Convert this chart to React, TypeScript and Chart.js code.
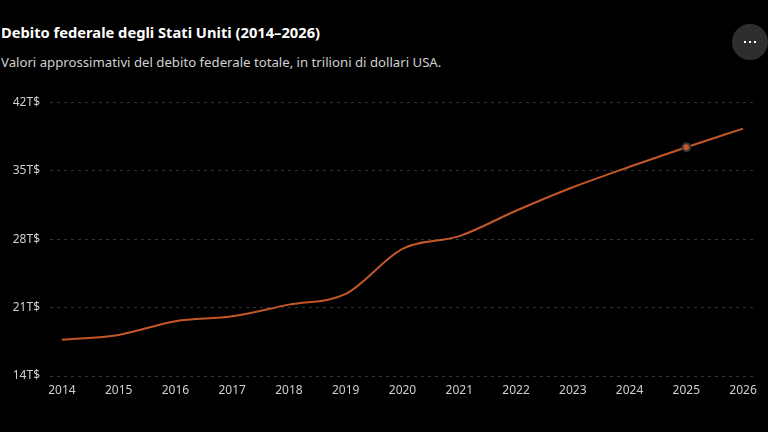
import React, { useEffect, useRef } from "react";
import { Chart, registerables } from "chart.js";

Chart.register(...registerables);

const years = [2014, 2015, 2016, 2017, 2018, 2019, 2020, 2021, 2022, 2023, 2024, 2025, 2026];
const debt = [17.7, 18.2, 19.6, 20.1, 21.3, 22.4, 27.0, 28.3, 30.9, 33.3, 35.4, 37.4, 39.3];
const yTicks = [14, 21, 28, 35, 42];
const highlightYear = 2025;

const LINE = "#c4572a";
const FONT = "'Noto Sans', 'Open Sans', sans-serif";

export default function App() {
  const ref = useRef<HTMLCanvasElement>(null);

  useEffect(() => {
    if (!ref.current) return;
    const chart = new Chart(ref.current, {
      type: "line",
      data: {
        datasets: [
          {
            data: years.map((y, i) => ({ x: y, y: debt[i] })),
            borderColor: LINE,
            borderWidth: 2,
            cubicInterpolationMode: "monotone",
            pointRadius: (c: any) => (years[c.dataIndex] === highlightYear ? 4 : 0),
            pointBackgroundColor: LINE,
            pointBorderColor: "#333333",
            pointBorderWidth: 2,
            pointHoverRadius: 0,
          },
        ],
      },
      options: {
        animation: false,
        responsive: false,
        maintainAspectRatio: false,
        layout: { padding: { top: 6, right: 13, left: 0, bottom: 0 } },
        plugins: { legend: { display: false }, tooltip: { enabled: false } },
        scales: {
          x: {
            type: "linear",
            min: years[0] - 0.21,
            max: years[years.length - 1] + 0.21,
            afterBuildTicks: (s: any) => {
              s.ticks = years.map((v) => ({ value: v }));
            },
            afterFit: (s: any) => {
              s.height = 24;
            },
            border: { display: false },
            grid: { display: false, drawTicks: false },
            ticks: {
              color: "#cfcfcf",
              font: { family: FONT, size: 12 },
              padding: 7,
              maxRotation: 0,
              callback: (v: any) => String(v),
            },
          },
          y: {
            min: yTicks[0],
            max: yTicks[yTicks.length - 1],
            afterBuildTicks: (s: any) => {
              s.ticks = yTicks.map((v) => ({ value: v }));
            },
            afterFit: (s: any) => {
              s.width = 50;
            },
            border: { display: false, dash: [3, 4] },
            grid: { color: "#333333", lineWidth: 1, drawTicks: false },
            ticks: {
              color: "#cfcfcf",
              font: { family: FONT, size: 12 },
              padding: 10,
              callback: (v: any) => `${v}T$`,
            },
          },
        },
      },
    });
    return () => chart.destroy();
  }, []);

  return (
    <div
      style={{
        position: "fixed",
        left: 0,
        top: 0,
        width: 768,
        height: 432,
        background: "#000",
        overflow: "hidden",
        fontFamily: FONT,
      }}
    >
      <div
        style={{
          position: "absolute",
          left: 1,
          top: 22,
          color: "#ffffff",
          fontWeight: 700,
          fontSize: 14.7,
          whiteSpace: "nowrap",
        }}
      >
        Debito federale degli Stati Uniti (2014–2026)
      </div>
      <div
        style={{
          position: "absolute",
          left: 1,
          top: 53,
          color: "#d0d0d0",
          fontSize: 13.2,
          whiteSpace: "nowrap",
        }}
      >
        Valori approssimativi del debito federale totale, in trilioni di dollari USA.
      </div>
      <div
        style={{
          position: "absolute",
          left: 732,
          top: 24,
          width: 36,
          height: 36,
          borderRadius: 18,
          background: "#2e2e2e",
          display: "flex",
          alignItems: "center",
          justifyContent: "center",
          gap: 3,
        }}
      >
        {[0, 1, 2].map((i) => (
          <span key={i} style={{ width: 2, height: 2, background: "#fff", display: "block" }} />
        ))}
      </div>
      <canvas
        ref={ref}
        width={768}
        height={315}
        style={{ position: "absolute", left: 0, top: 85, width: 768, height: 315 }}
      />
    </div>
  );
}
